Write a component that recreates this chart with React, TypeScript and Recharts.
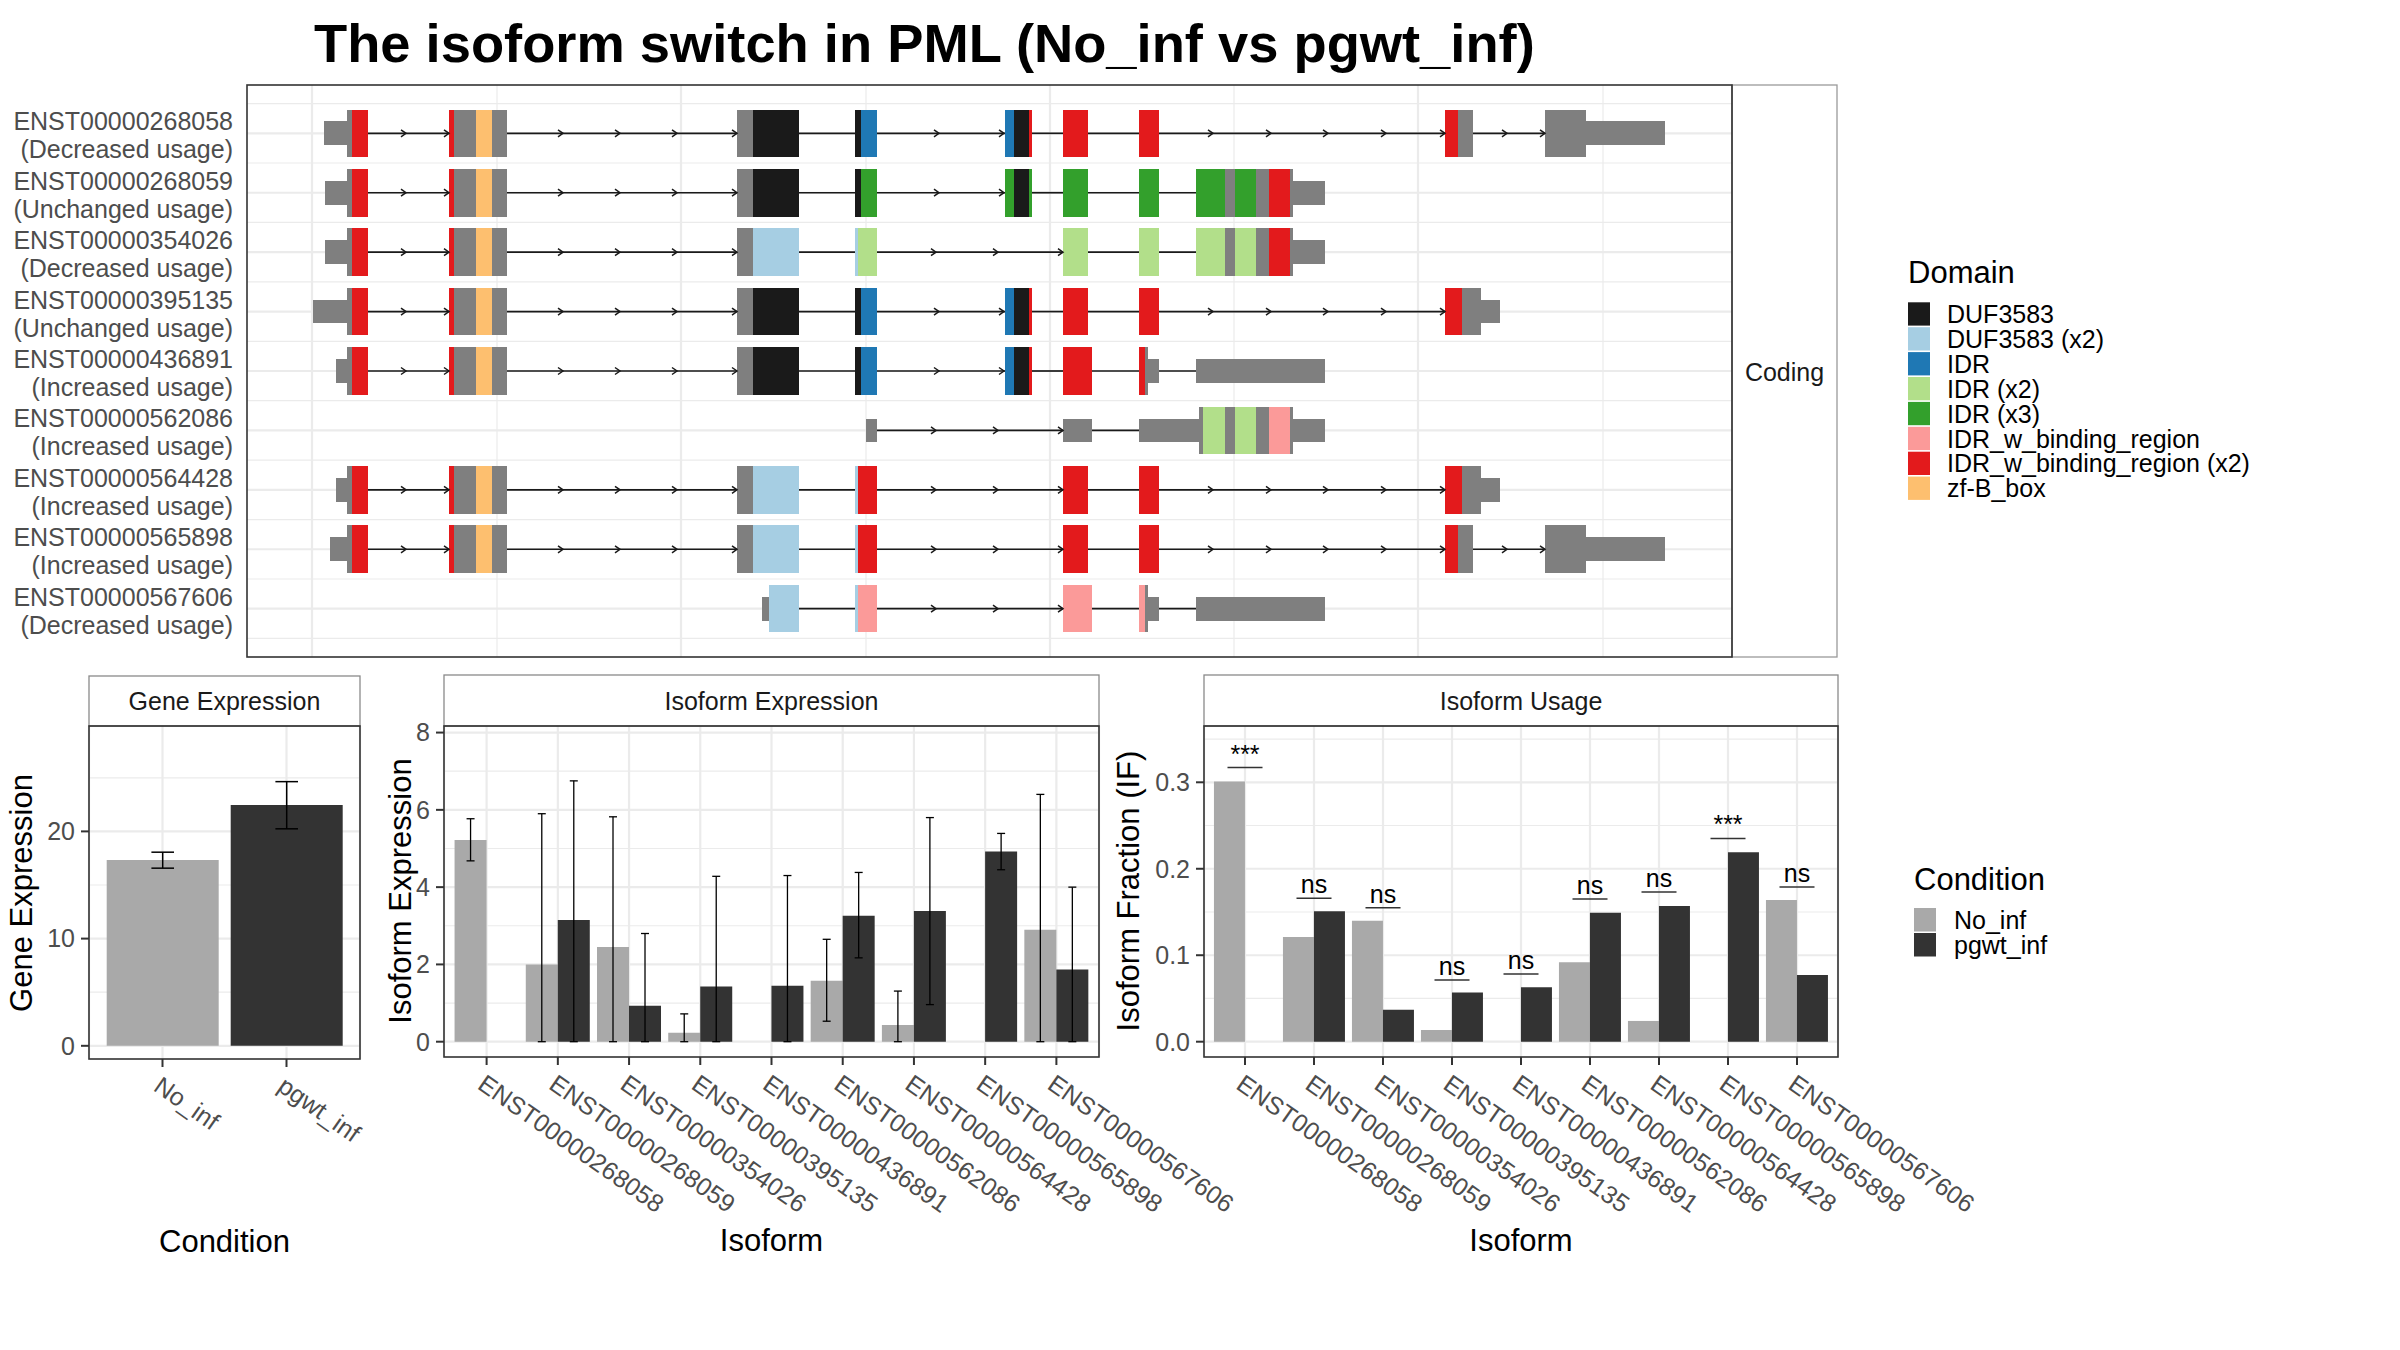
import React from "react";
import {
  ComposedChart,
  BarChart,
  Bar,
  XAxis,
  YAxis,
  CartesianGrid,
  ReferenceArea,
  ReferenceLine,
  Scatter,
  ErrorBar,
  Cell,
} from "recharts";

const FONT = '"Liberation Sans", Arial, Helvetica, sans-serif';
const TXT = "#4D4D4D";
const DARK = "#1A1A1A";
const GRID = "#EBEBEB";

// ---------------- text ----------------
const chartTitle = "The isoform switch in PML (No_inf vs pgwt_inf)";

// ---------------- transcript structure panel ----------------
const transcriptIds = [
  "ENST00000268058",
  "ENST00000268059",
  "ENST00000354026",
  "ENST00000395135",
  "ENST00000436891",
  "ENST00000562086",
  "ENST00000564428",
  "ENST00000565898",
  "ENST00000567606",
];
const usageClass = [
  "Decreased usage",
  "Unchanged usage",
  "Decreased usage",
  "Unchanged usage",
  "Increased usage",
  "Increased usage",
  "Increased usage",
  "Increased usage",
  "Decreased usage",
];

const domainNames = [
  "DUF3583",
  "DUF3583 (x2)",
  "IDR",
  "IDR (x2)",
  "IDR (x3)",
  "IDR_w_binding_region",
  "IDR_w_binding_region (x2)",
  "zf-B_box",
];
const domainKeys = ["D", "D2", "I", "I2", "I3", "B", "B2", "Z"];
const domainColors = ["#1A1A1A", "#A6CEE3", "#1F78B4", "#B2DF8A", "#33A02C", "#FB9A99", "#E31A1C", "#FDBF6F"];
const exonGrey = "#7F7F7F";

// exon segments: [start, end, kind]  (utr = half height grey, cds = full height grey, others = domain)
const exons268058 = [
  [77, 101, "utr"], [100, 105, "cds"], [105, 121, "B2"],
  [202, 207, "B2"], [207, 229, "cds"], [229, 245, "Z"], [245, 260, "cds"],
  [490, 506, "cds"], [506, 552, "D"],
  [608, 614, "D"], [614, 630, "I"],
  [758, 767, "I"], [767, 782, "D"], [782, 785, "B2"],
  [816, 841, "B2"], [892, 912, "B2"],
  [1198, 1211, "B2"], [1211, 1226, "cds"],
  [1298, 1339, "cds"], [1339, 1418, "utr"],
];
const exons268059 = [
  [78, 101, "utr"], [100, 105, "cds"], [105, 121, "B2"],
  [202, 207, "B2"], [207, 229, "cds"], [229, 245, "Z"], [245, 260, "cds"],
  [490, 506, "cds"], [506, 552, "D"],
  [608, 614, "D"], [614, 630, "I3"],
  [758, 767, "I3"], [767, 782, "D"], [782, 785, "I3"],
  [816, 841, "I3"], [892, 912, "I3"],
  [949, 978, "I3"], [978, 988, "cds"], [988, 1009, "I3"], [1009, 1022, "cds"], [1022, 1043, "B2"], [1043, 1046, "cds"], [1046, 1078, "utr"],
];
const exons354026 = [
  [78, 101, "utr"], [100, 105, "cds"], [105, 121, "B2"],
  [202, 207, "B2"], [207, 229, "cds"], [229, 245, "Z"], [245, 260, "cds"],
  [490, 506, "cds"], [506, 552, "D2"],
  [608, 611, "D2"], [611, 630, "I2"],
  [816, 841, "I2"], [892, 912, "I2"],
  [949, 978, "I2"], [978, 988, "cds"], [988, 1009, "I2"], [1009, 1022, "cds"], [1022, 1043, "B2"], [1043, 1046, "cds"], [1046, 1078, "utr"],
];
const exons395135 = [
  [66, 101, "utr"], [100, 105, "cds"], [105, 121, "B2"],
  [202, 207, "B2"], [207, 229, "cds"], [229, 245, "Z"], [245, 260, "cds"],
  [490, 506, "cds"], [506, 552, "D"],
  [608, 614, "D"], [614, 630, "I"],
  [758, 767, "I"], [767, 782, "D"], [782, 785, "B2"],
  [816, 841, "B2"], [892, 912, "B2"],
  [1198, 1215, "B2"], [1215, 1234, "cds"], [1234, 1253, "utr"],
];
const exons436891 = [
  [89, 101, "utr"], [100, 105, "cds"], [105, 121, "B2"],
  [202, 207, "B2"], [207, 229, "cds"], [229, 245, "Z"], [245, 260, "cds"],
  [490, 506, "cds"], [506, 552, "D"],
  [608, 614, "D"], [614, 630, "I"],
  [758, 767, "I"], [767, 782, "D"], [782, 785, "B2"],
  [816, 845, "B2"],
  [892, 898, "B2"], [898, 901, "cds"], [901, 912, "utr"],
  [949, 1078, "utr"],
];
const exons562086 = [
  [619, 630, "utr"],
  [816, 845, "utr"],
  [892, 952, "utr"], [952, 956, "cds"], [956, 978, "I2"], [978, 988, "cds"], [988, 1009, "I2"], [1009, 1022, "cds"], [1022, 1043, "B"], [1043, 1046, "cds"], [1046, 1078, "utr"],
];
const exons564428 = [
  [89, 101, "utr"], [100, 105, "cds"], [105, 121, "B2"],
  [202, 207, "B2"], [207, 229, "cds"], [229, 245, "Z"], [245, 260, "cds"],
  [490, 506, "cds"], [506, 552, "D2"],
  [608, 611, "D2"], [611, 630, "B2"],
  [816, 841, "B2"], [892, 912, "B2"],
  [1198, 1215, "B2"], [1215, 1234, "cds"], [1234, 1253, "utr"],
];
const exons565898 = [
  [83, 101, "utr"], [100, 105, "cds"], [105, 121, "B2"],
  [202, 207, "B2"], [207, 229, "cds"], [229, 245, "Z"], [245, 260, "cds"],
  [490, 506, "cds"], [506, 552, "D2"],
  [608, 611, "D2"], [611, 630, "B2"],
  [816, 841, "B2"], [892, 912, "B2"],
  [1198, 1211, "B2"], [1211, 1226, "cds"],
  [1298, 1339, "cds"], [1339, 1418, "utr"],
];
const exons567606 = [
  [515, 522, "utr"], [522, 552, "D2"],
  [608, 611, "D2"], [611, 630, "B"],
  [816, 845, "B"],
  [892, 898, "B"], [898, 901, "cds"], [901, 912, "utr"],
  [949, 1078, "utr"],
];

const introns268058 = [[121, 202], [260, 490], [552, 608], [630, 758], [785, 816], [841, 892], [912, 1198], [1226, 1298]];
const introns268059 = [[121, 202], [260, 490], [552, 608], [630, 758], [785, 816], [841, 892], [912, 949]];
const introns354026 = [[121, 202], [260, 490], [552, 608], [630, 816], [841, 892], [912, 949]];
const introns395135 = [[121, 202], [260, 490], [552, 608], [630, 758], [785, 816], [841, 892], [912, 1198]];
const introns436891 = [[121, 202], [260, 490], [552, 608], [630, 758], [785, 816], [845, 892], [912, 949]];
const introns562086 = [[630, 816], [845, 892]];
const introns564428 = [[121, 202], [260, 490], [552, 608], [630, 816], [841, 892], [912, 1198]];
const introns565898 = [[121, 202], [260, 490], [552, 608], [630, 816], [841, 892], [912, 1198], [1226, 1298]];
const introns567606 = [[552, 608], [630, 816], [845, 892], [912, 949]];

const arrows268058 = [159, 202, 316, 373, 430, 490, 692, 757, 966, 1024, 1081, 1139, 1198, 1260, 1298];
const arrows268059 = [159, 202, 316, 373, 430, 490, 692, 757];
const arrows354026 = [159, 202, 316, 373, 430, 490, 689, 751, 816];
const arrows395135 = [159, 202, 316, 373, 430, 490, 692, 757, 966, 1024, 1081, 1139, 1198];
const arrows436891 = [159, 202, 316, 373, 430, 490, 692, 757];
const arrows562086 = [689, 751, 816];
const arrows564428 = [159, 202, 316, 373, 430, 490, 689, 751, 816, 966, 1024, 1081, 1139, 1198];
const arrows565898 = [159, 202, 316, 373, 430, 490, 689, 751, 816, 966, 1024, 1081, 1139, 1198, 1260, 1298];
const arrows567606 = [689, 751, 816];

const structureXDomain = [0, 1485];
const structureMajorX = [65, 434, 803, 1171];
const structureMinorX = [250, 619, 987, 1356];

// ---------------- expression panels ----------------
const conditions = ["No_inf", "pgwt_inf"];
const conditionColors = ["#A9A9A9", "#333333"];

const geneMean = [17.33, 22.46];
const geneLow = [16.57, 20.24];
const geneHigh = [18.06, 24.64];

const isoExpNo = [5.22, 2.0, 2.45, 0.23, 0, 1.58, 0.43, 0, 2.9];
const isoExpNoLow = [4.68, 0, 0, 0, 0, 0.53, 0, 0, 0];
const isoExpNoHigh = [5.77, 5.9, 5.82, 0.72, 0, 2.65, 1.31, 0, 6.4];
const isoExpPg = [0, 3.15, 0.93, 1.43, 1.45, 3.26, 3.38, 4.92, 1.87];
const isoExpPgLow = [0, 0, 0, 0, 0, 2.17, 0.96, 4.45, 0];
const isoExpPgHigh = [0, 6.75, 2.8, 4.28, 4.3, 4.38, 5.8, 5.39, 4.0];

const ifNo = [0.301, 0.121, 0.14, 0.0135, 0, 0.092, 0.024, 0, 0.164];
const ifPg = [0, 0.151, 0.037, 0.057, 0.063, 0.149, 0.157, 0.219, 0.077];
const sigLabels = ["***", "ns", "ns", "ns", "ns", "ns", "ns", "***", "ns"];
const sigLevel = [0.317, 0.166, 0.155, 0.0714, 0.0783, 0.165, 0.173, 0.235, 0.179];

// ---------------- derived tables ----------------
const exonTable = [exons268058, exons268059, exons354026, exons395135, exons436891, exons562086, exons564428, exons565898, exons567606];
const intronTable = [introns268058, introns268059, introns354026, introns395135, introns436891, introns562086, introns564428, introns565898, introns567606];
const arrowTable = [arrows268058, arrows268059, arrows354026, arrows395135, arrows436891, arrows562086, arrows564428, arrows565898, arrows567606];

const segRows = exonTable.flatMap((segs, row) => segs.map(([s, e, k]) => ({ row, s: s as number, e: e as number, k: k as string })));
const intronRows = intronTable.flatMap((segs, row) => segs.map(([s, e]) => ({ row, s, e })));
const arrowData = arrowTable.flatMap((xs, row) => xs.map((x) => ({ x, y: row })));

const geneData = conditions.map((c, i) => ({
  name: c,
  value: geneMean[i],
  err: [geneMean[i] - geneLow[i], geneHigh[i] - geneMean[i]],
}));
const isoExpData = transcriptIds.map((id, i) => ({
  name: id,
  no: isoExpNo[i],
  pg: isoExpPg[i],
  errNo: [isoExpNo[i] - isoExpNoLow[i], isoExpNoHigh[i] - isoExpNo[i]],
  errPg: [isoExpPg[i] - isoExpPgLow[i], isoExpPgHigh[i] - isoExpPg[i]],
}));
const usageData = transcriptIds.map((id, i) => ({
  name: id,
  no: ifNo[i],
  pg: ifPg[i],
  sig: sigLabels[i],
  sigY: sigLevel[i],
}));

const kindColor = (k: string) => (k === "utr" || k === "cds" ? exonGrey : domainColors[domainKeys.indexOf(k)]);

// ---------------- small renderers ----------------
const ArrowShape = (p: any) => {
  const { cx, cy } = p;
  if (cx == null || cy == null) return <g />;
  return (
    <path d={`M${cx - 5},${cy - 3.5}L${cx},${cy}L${cx - 5},${cy + 3.5}`} fill="none" stroke={DARK} strokeWidth={1.5} />
  );
};

const TranscriptTick = (p: any) => {
  const { x, y, payload } = p;
  const i = Math.round(payload.value);
  if (i < 0 || i > 8) return <g />;
  return (
    <g>
      <text x={x} y={y - 3} textAnchor="end" fontSize={25} fill={TXT} fontFamily={FONT}>
        {transcriptIds[i]}
      </text>
      <text x={x} y={y + 25} textAnchor="end" fontSize={25} fill={TXT} fontFamily={FONT}>
        ({usageClass[i]})
      </text>
    </g>
  );
};

const RotTick = (p: any) => {
  const { x, y, payload } = p;
  const ay = y + 6;
  return (
    <text
      x={x}
      y={ay}
      dy="0.72em"
      transform={`rotate(35 ${x} ${ay})`}
      textAnchor="start"
      fontSize={25}
      fill={TXT}
      fontFamily={FONT}
    >
      {payload.value}
    </text>
  );
};

const SigShape = (p: any) => {
  const { cx, cy, payload } = p;
  if (cx == null || cy == null) return <g />;
  return (
    <g>
      <line x1={cx - 17.5} x2={cx + 17.5} y1={cy} y2={cy} stroke="#333333" strokeWidth={1.5} />
      <text x={cx} y={cy - 5} textAnchor="middle" fontSize={25} fill="#000" fontFamily={FONT}>
        {payload.sig}
      </text>
    </g>
  );
};

const yTick = { fontSize: 25, fill: TXT, fontFamily: FONT };
const tickLineStyle = { stroke: "#333333", strokeWidth: 2 };

function StructureChart() {
  return (
    <ComposedChart width={1732} height={670} margin={{ top: 85, right: 0, left: 0, bottom: 13 }}>
      <CartesianGrid
        horizontalValues={[-0.5, 0.5, 1.5, 2.5, 3.5, 4.5, 5.5, 6.5, 7.5, 8.5]}
        verticalValues={structureMinorX}
        stroke={GRID}
        strokeWidth={1.2}
      />
      <CartesianGrid
        horizontalValues={[0, 1, 2, 3, 4, 5, 6, 7, 8]}
        verticalValues={structureMajorX}
        stroke={GRID}
        strokeWidth={2.2}
      />
      <XAxis type="number" dataKey="x" domain={structureXDomain} allowDataOverflow hide />
      <YAxis
        type="number"
        dataKey="y"
        width={247}
        domain={[-0.813, 8.813]}
        allowDataOverflow
        reversed
        ticks={[0, 1, 2, 3, 4, 5, 6, 7, 8]}
        interval={0}
        tickLine={false}
        axisLine={false}
        tickSize={0}
        tickMargin={14}
        tick={(p: any) => <TranscriptTick {...p} />}
      />
      {intronRows.map((g, i) => (
        <ReferenceLine
          key={"in" + i}
          segment={[
            { x: g.s, y: g.row },
            { x: g.e, y: g.row },
          ]}
          stroke={DARK}
          strokeWidth={1.7}
          ifOverflow="visible"
        />
      ))}
      {segRows.map((g, i) => {
        const half = g.k === "utr" ? 0.2 : 0.4;
        const fill = kindColor(g.k);
        return (
          <ReferenceArea
            key={"ex" + i}
            x1={g.s}
            x2={g.e}
            y1={g.row - half}
            y2={g.row + half}
            fill={fill}
            fillOpacity={1}
            stroke="none"
            ifOverflow="visible"
            shape={(sp: any) => (
              <rect x={sp.x} y={sp.y} width={sp.width} height={sp.height} fill={fill} shapeRendering="crispEdges" />
            )}
          />
        );
      })}
      <Scatter data={arrowData} dataKey="y" shape={ArrowShape} isAnimationActive={false} />
    </ComposedChart>
  );
}

function GeneChart() {
  return (
    <BarChart width={420} height={600} data={geneData} margin={{ top: 66, right: 60, left: 0, bottom: 0 }} barCategoryGap="5%">
      <CartesianGrid vertical={false} horizontalValues={[5, 15, 25]} stroke={GRID} strokeWidth={1.2} />
      <CartesianGrid horizontalValues={[0, 10, 20]} stroke={GRID} strokeWidth={2.2} />
      <XAxis
        dataKey="name"
        height={201}
        padding={{ left: 11.5, right: 11.5 }}
        interval={0}
        tickSize={8}
        tickLine={tickLineStyle}
        axisLine={false}
        tick={(p: any) => <RotTick {...p} />}
      />
      <YAxis
        type="number"
        width={89}
        domain={[-1.23, 29.83]}
        allowDataOverflow
        ticks={[0, 10, 20]}
        interval={0}
        tickSize={8}
        tickMargin={6}
        tickLine={tickLineStyle}
        axisLine={false}
        tick={yTick}
      />
      <Bar dataKey="value" isAnimationActive={false}>
        {geneData.map((d, i) => (
          <Cell key={d.name} fill={conditionColors[i]} />
        ))}
        <ErrorBar dataKey="err" width={11.3} stroke="#000" strokeWidth={1.5} direction="y" />
      </Bar>
    </BarChart>
  );
}

function IsoExpChart() {
  return (
    <BarChart
      width={920}
      height={600}
      data={isoExpData}
      margin={{ top: 66, right: 201, left: 0, bottom: 0 }}
      barCategoryGap="5%"
      barGap={0}
    >
      <CartesianGrid vertical={false} horizontalValues={[1, 3, 5, 7]} stroke={GRID} strokeWidth={1.2} />
      <CartesianGrid horizontalValues={[0, 2, 4, 6, 8]} stroke={GRID} strokeWidth={2.2} />
      <XAxis
        dataKey="name"
        height={203}
        padding={{ left: 7, right: 7 }}
        interval={0}
        tickSize={8}
        tickLine={tickLineStyle}
        axisLine={false}
        tick={(p: any) => <RotTick {...p} />}
      />
      <YAxis
        type="number"
        width={64}
        domain={[-0.396, 8.17]}
        allowDataOverflow
        ticks={[0, 2, 4, 6, 8]}
        interval={0}
        tickSize={8}
        tickMargin={6}
        tickLine={tickLineStyle}
        axisLine={false}
        tick={yTick}
      />
      <Bar dataKey="no" fill={conditionColors[0]} isAnimationActive={false}>
        <ErrorBar dataKey="errNo" width={4} stroke="#000" strokeWidth={1.3} direction="y" />
      </Bar>
      <Bar dataKey="pg" fill={conditionColors[1]} isAnimationActive={false}>
        <ErrorBar dataKey="errPg" width={4} stroke="#000" strokeWidth={1.3} direction="y" />
      </Bar>
    </BarChart>
  );
}

function UsageChart() {
  return (
    <ComposedChart
      width={960}
      height={600}
      data={usageData}
      margin={{ top: 66, right: 222, left: 0, bottom: 0 }}
      barCategoryGap="5%"
      barGap={0}
    >
      <CartesianGrid vertical={false} horizontalValues={[0.05, 0.15, 0.25, 0.35]} stroke={GRID} strokeWidth={1.2} />
      <CartesianGrid horizontalValues={[0, 0.1, 0.2, 0.3]} stroke={GRID} strokeWidth={2.2} />
      <XAxis
        dataKey="name"
        height={203}
        padding={{ left: 6.5, right: 6.5 }}
        interval={0}
        tickSize={8}
        tickLine={tickLineStyle}
        axisLine={false}
        tick={(p: any) => <RotTick {...p} />}
      />
      <YAxis
        type="number"
        width={104}
        domain={[-0.0177, 0.3651]}
        allowDataOverflow
        ticks={[0, 0.1, 0.2, 0.3]}
        interval={0}
        tickSize={8}
        tickMargin={6}
        tickLine={tickLineStyle}
        axisLine={false}
        tick={yTick}
        tickFormatter={(v: number) => v.toFixed(1)}
      />
      <Bar dataKey="no" fill={conditionColors[0]} isAnimationActive={false} />
      <Bar dataKey="pg" fill={conditionColors[1]} isAnimationActive={false} />
      <Scatter dataKey="sigY" shape={SigShape} isAnimationActive={false} />
    </ComposedChart>
  );
}

const abs = (left: number, top: number): React.CSSProperties => ({ position: "absolute", left, top });

export default function App() {
  return (
    <div style={{ position: "absolute", left: 0, top: 0, width: 2400, height: 1350, background: "#fff", fontFamily: FONT }}>
      <div style={abs(0, 0)}>
        <StructureChart />
      </div>
      <div style={abs(1100, 660)}>
        <UsageChart />
      </div>
      <div style={abs(380, 660)}>
        <IsoExpChart />
      </div>
      <div style={abs(0, 660)}>
        <GeneChart />
      </div>
      <svg width={2400} height={1350} style={{ position: "absolute", left: 0, top: 0, pointerEvents: "none" }}>
        <text x={314} y={62} fontSize={54.3} fontWeight="bold" fontFamily={FONT} fill="#000">
          {chartTitle}
        </text>

        {/* transcript panel frame + strip */}
        <rect x={1732} y={85} width={105} height={572} fill="none" stroke="#9A9A9A" strokeWidth={1.3} />
        <text x={1784.5} y={380.5} textAnchor="middle" fontSize={25} fill={DARK} fontFamily={FONT}>
          Coding
        </text>
        <rect x={247} y={85} width={1485} height={572} fill="none" stroke="#333333" strokeWidth={1.6} />

        {/* bottom panels frames and strips */}
        <rect x={89} y={676} width={271} height={50} fill="#fff" stroke="#8A8A8A" strokeWidth={1.3} />
        <text x={224.5} y={710} textAnchor="middle" fontSize={25} fill={DARK} fontFamily={FONT}>
          Gene Expression
        </text>
        <rect x={89} y={726} width={271} height={333} fill="none" stroke="#333333" strokeWidth={1.6} />

        <rect x={444} y={675} width={655} height={51} fill="#fff" stroke="#8A8A8A" strokeWidth={1.3} />
        <text x={771.5} y={710} textAnchor="middle" fontSize={25} fill={DARK} fontFamily={FONT}>
          Isoform Expression
        </text>
        <rect x={444} y={726} width={655} height={331} fill="none" stroke="#333333" strokeWidth={1.6} />

        <rect x={1204} y={675} width={634} height={51} fill="#fff" stroke="#8A8A8A" strokeWidth={1.3} />
        <text x={1521} y={710} textAnchor="middle" fontSize={25} fill={DARK} fontFamily={FONT}>
          Isoform Usage
        </text>
        <rect x={1204} y={726} width={634} height={331} fill="none" stroke="#333333" strokeWidth={1.6} />

        {/* axis titles */}
        <text x={32} y={893} transform="rotate(-90 32 893)" textAnchor="middle" fontSize={31} fill="#000" fontFamily={FONT}>
          Gene Expression
        </text>
        <text x={411} y={891} transform="rotate(-90 411 891)" textAnchor="middle" fontSize={31} fill="#000" fontFamily={FONT}>
          Isoform Expression
        </text>
        <text x={1139} y={891} transform="rotate(-90 1139 891)" textAnchor="middle" fontSize={31} fill="#000" fontFamily={FONT}>
          Isoform Fraction (IF)
        </text>
        <text x={224.5} y={1252} textAnchor="middle" fontSize={31} fill="#000" fontFamily={FONT}>
          Condition
        </text>
        <text x={771.5} y={1251} textAnchor="middle" fontSize={31} fill="#000" fontFamily={FONT}>
          Isoform
        </text>
        <text x={1521} y={1251} textAnchor="middle" fontSize={31} fill="#000" fontFamily={FONT}>
          Isoform
        </text>

        {/* Domain legend */}
        <text x={1908} y={283} fontSize={31} fill="#000" fontFamily={FONT}>
          Domain
        </text>
        {domainNames.map((n, i) => (
          <g key={n}>
            <rect x={1908} y={302.3 + i * 24.9} width={22} height={23.3} fill={domainColors[i]} />
            <text x={1947} y={323 + i * 24.9} fontSize={25} fill="#000" fontFamily={FONT}>
              {n}
            </text>
          </g>
        ))}

        {/* Condition legend */}
        <text x={1914} y={890} fontSize={31} fill="#000" fontFamily={FONT}>
          Condition
        </text>
        {conditions.map((c, i) => (
          <g key={c}>
            <rect x={1914} y={908 + i * 25} width={22} height={23.5} fill={conditionColors[i]} />
            <text x={1954} y={929 + i * 25} fontSize={25} fill="#000" fontFamily={FONT}>
              {c}
            </text>
          </g>
        ))}
      </svg>
    </div>
  );
}
